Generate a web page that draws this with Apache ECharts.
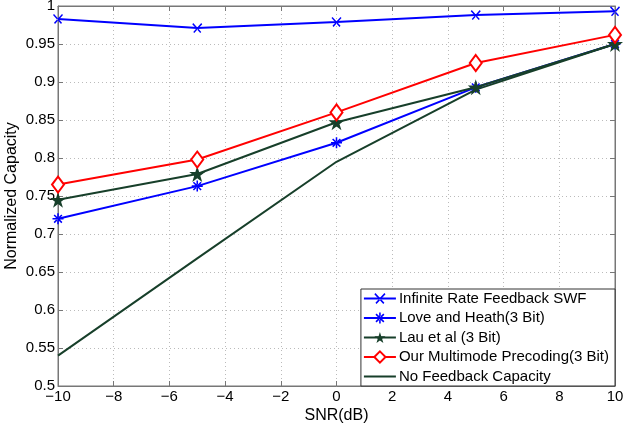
<!DOCTYPE html>
<html><head><meta charset="utf-8">
<script src="https://cdn.jsdelivr.net/npm/echarts@6/dist/echarts.min.js"></script>
<style>html,body{margin:0;padding:0;background:#fff}#c{width:623px;height:429px}</style>
</head><body><div id="c"></div>
<script>
var snr = [-10, -5, 0, 5, 10];
var infiniteSWF = [0.983, 0.971, 0.979, 0.988, 0.993];
var loveHeath = [0.720, 0.763, 0.820, 0.893, 0.950];
var lau = [0.745, 0.779, 0.847, 0.893, 0.950];
var ours = [0.765, 0.798, 0.860, 0.925, 0.962];
var noFeedback = [0.540, 0.668, 0.795, 0.890, 0.950];
var xTicks = [-10, -8, -6, -4, -2, 0, 2, 4, 6, 8, 10];
var yTicks = [0.5, 0.55, 0.6, 0.65, 0.7, 0.75, 0.8, 0.85, 0.9, 0.95, 1];
var names = ['Infinite Rate Feedback SWF', 'Love and Heath(3 Bit)', 'Lau et al (3 Bit)', 'Our Multimode Precoding(3 Bit)', 'No Feedback Capacity'];

function pts(arr){ return snr.map(function(x,i){ return [x, arr[i]]; }); }
var green = '#173f2a';
var crossPath = 'path://M1,1L9,9L8,10L0,2ZM9,1L1,9L2,10L10,2Z';
var asterPath = 'path://M4.3,0H5.7V10H4.3ZM0,4.3H10V5.7H0ZM1,2L2,1L9,8L8,9ZM9,2L8,1L1,8L2,9Z';
var starPath = 'path://M50,0L61.8,36.2L100,36.2L69.1,58.8L80.9,95.1L50,72.7L19.1,95.1L30.9,58.8L0,36.2L38.2,36.2Z';
var fmt = function(v){ return String(v).replace('-', '\u2212'); };
var FF = 'Liberation Sans, Arial, sans-serif';
var axText = {color:'#000', fontFamily:FF, fontSize:15};
var nameText = {color:'#000', fontFamily:FF, fontSize:16};

var chart = echarts.init(document.getElementById('c'));
chart.setOption({
  animation:false,
  grid:{left:58, right:8, top:6, bottom:43, show:true, borderColor:'#777', borderWidth:1, containLabel:false, outerBoundsMode:'none'},
  legend:{
    orient:'vertical', right:8, bottom:43,
    data:[{name:names[0]},{name:names[1]},{name:names[2]},{name:names[3]},
          {name:names[4], icon:'line', itemStyle:{color:green, borderColor:green, borderWidth:2}}],
    backgroundColor:'#fff', borderColor:'#333', borderWidth:1,
    padding:[2,6,2,2], itemGap:4.5, itemWidth:32, itemHeight:14,
    textStyle:{color:'#000', fontFamily:FF, fontSize:15, padding:[0,0,0,-2]}
  },
  xAxis:[{
    type:'value', min:-10, max:10, interval:2,
    name:'SNR(dB)', nameLocation:'middle', nameGap:22, nameMoveOverlap:false,
    nameTextStyle:nameText,
    axisLine:{show:true, onZero:false, lineStyle:{color:'#777'}},
    axisTick:{inside:true, length:5, lineStyle:{color:'#777'}},
    axisLabel:Object.assign({formatter:fmt, margin:3}, axText),
    splitLine:{show:true, lineStyle:{color:'#bbb', type:[1,3]}}
  },{
    type:'value', min:-10, max:10, interval:2, position:'top',
    axisLine:{show:true, onZero:false, lineStyle:{color:'#777'}},
    axisTick:{inside:true, length:5, lineStyle:{color:'#777'}},
    axisLabel:{show:false}, splitLine:{show:false}
  }],
  yAxis:[{
    type:'value', min:0.5, max:1, interval:0.05,
    name:'Normalized Capacity', nameLocation:'middle', nameGap:38, nameMoveOverlap:false,
    nameTextStyle:nameText,
    axisLine:{show:true, onZero:false, lineStyle:{color:'#777'}},
    axisTick:{inside:true, length:5, lineStyle:{color:'#777'}},
    axisLabel:Object.assign({margin:3, formatter:function(v){return String(Math.round(v*100)/100);}}, axText),
    splitLine:{show:true, lineStyle:{color:'#bbb', type:[1,3]}}
  },{
    type:'value', min:0.5, max:1, interval:0.05, position:'right',
    axisLine:{show:true, onZero:false, lineStyle:{color:'#777'}},
    axisTick:{inside:true, length:5, lineStyle:{color:'#777'}},
    axisLabel:{show:false}, splitLine:{show:false}
  }],
  series:[
    {name:names[0], type:'line', data:pts(infiniteSWF), symbol:crossPath, symbolSize:10,
     lineStyle:{color:'#0000ff', width:2}, itemStyle:{color:'#0000ff'}},
    {name:names[1], type:'line', data:pts(loveHeath), symbol:asterPath, symbolSize:11,
     lineStyle:{color:'#0000ff', width:2}, itemStyle:{color:'#0000ff'}},
    {name:names[4], type:'line', data:pts(noFeedback), symbol:'none',
     lineStyle:{color:green, width:2}, itemStyle:{color:green}},
    {name:names[2], type:'line', data:pts(lau), symbol:starPath, symbolSize:16,
     lineStyle:{color:green, width:2}, itemStyle:{color:green}},
    {name:names[3], type:'line', data:pts(ours), symbol:'diamond', symbolSize:[12,16],
     lineStyle:{color:'#ff0000', width:2}, itemStyle:{color:'#fff', borderColor:'#ff0000', borderWidth:2}}
  ]
});
</script></body></html>
